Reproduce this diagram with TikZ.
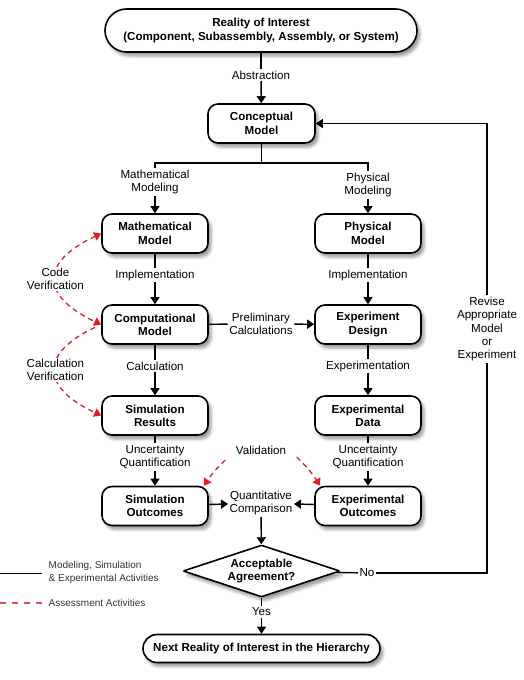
\documentclass[tikz,border=0pt]{standalone}
\usepackage{fontspec}
\setmainfont{Liberation Sans}
\usetikzlibrary{arrows.meta,shapes.geometric,shadows.blur}
\definecolor{assessred}{RGB}{226,30,36}

\begin{document}
\begin{tikzpicture}[x=1pt, y=1pt,
  >={Triangle[length=7pt,width=9pt]},
  box/.style={draw, fill=white, line width=1.6pt, rounded corners=10pt,
    minimum width=106pt, minimum height=39pt, align=center,
    font=\bfseries\fontsize{11.6}{13.3}\selectfont,
    blur shadow={shadow xshift=3pt, shadow yshift=-4pt, shadow blur radius=3pt}},
  lbl/.style={align=center, inner sep=1.5pt, text=black, font=\fontsize{11.6}{13.3}\selectfont},
  legtext/.style={lbl, anchor=west, align=left, text=black!80, font=\fontsize{10}{12.5}\selectfont},
  flow/.style={line width=1.4pt, ->},
  link/.style={line width=1.4pt},
  assess/.style={assessred, dashed, dash pattern=on 5pt off 4pt, line width=1.3pt}]
  \useasboundingbox (0,0) rectangle (524,-680);

  % Boxes
  \node[box, minimum width=312pt, minimum height=43pt, rounded corners=21.5pt] (reality) at (261,-30.5)
    {Reality of Interest\\(Component, Subassembly, Assembly, or System)};
  \node[box, minimum width=107pt] (concept) at (261.5,-123.5) {Conceptual\\Model};
  \node[box] (math) at (155,-233.5) {Mathematical\\Model};
  \node[box] (phys) at (368,-233.5) {Physical\\Model};
  \node[box] (comp) at (155,-324.5) {Computational\\Model};
  \node[box] (design) at (368,-324.5) {Experiment\\Design};
  \node[box] (simres) at (155,-415.5) {Simulation\\Results};
  \node[box] (expdata) at (368,-415.5) {Experimental\\Data};
  \node[box] (simout) at (155,-506) {Simulation\\Outcomes};
  \node[box] (expout) at (368,-506) {Experimental\\Outcomes};
  \node[box, diamond, aspect=3.2, rounded corners=1pt, inner sep=0pt, minimum width=157pt, minimum height=52pt] (accept)
    at (261.5,-571) {Acceptable\\Agreement?};
  \node[box, minimum width=237pt, minimum height=28pt, rounded corners=14pt] (next) at (261.5,-648.5)
    {Next Reality of Interest in the Hierarchy};

  % Labels
  \node[lbl] (abstr) at (261,-75) {Abstraction};
  \node[lbl] (mmodel) at (155,-182) {Mathematical\\Modeling};
  \node[lbl] (pmodel) at (368,-185) {Physical\\Modeling};
  \node[lbl] (impl1) at (155,-275) {Implementation};
  \node[lbl] (impl2) at (368,-275) {Implementation};
  \node[lbl] (prelim) at (261,-324) {Preliminary\\Calculations};
  \node[lbl] (calc) at (155,-366) {Calculation};
  \node[lbl] (exper) at (368,-366) {Experimentation};
  \node[lbl] (uq1) at (155,-457) {Uncertainty\\Quantification};
  \node[lbl] (uq2) at (368,-457) {Uncertainty\\Quantification};
  \node[lbl] (valid) at (261,-450) {Validation};
  \node[lbl] (quant) at (261,-503) {Quantitative\\Comparison};
  \node[lbl] (yes) at (261.5,-612) {Yes};
  \node[lbl] (no) at (367,-573) {No};
  \node[lbl, text width=90pt] (revise) at (487,-329) {Revise\\Appropriate\\Model\\or\\Experiment};

  % Main flow
  \draw[link] (reality) -- (abstr);
  \draw[flow] (abstr) -- (concept);
  \draw[link] (concept.south) -- ++(0,-19) coordinate (split);
  \draw[link] (split) -| (mmodel.north);
  \draw[link] (split) -| (pmodel.north);
  \draw[flow] (mmodel) -- (math);
  \draw[flow] (pmodel) -- (phys);
  \draw[link] (math) -- (impl1);
  \draw[flow] (impl1) -- (comp);
  \draw[link] (phys) -- (impl2);
  \draw[flow] (impl2) -- (design);
  \draw[link] (comp) -- (prelim);
  \draw[flow] (prelim) -- (design);
  \draw[link] (comp) -- (calc);
  \draw[flow] (calc) -- (simres);
  \draw[link] (design) -- (exper);
  \draw[flow] (exper) -- (expdata);
  \draw[link] (simres) -- (uq1);
  \draw[flow] (uq1) -- (simout);
  \draw[link] (expdata) -- (uq2);
  \draw[flow] (uq2) -- (expout);
  \draw[flow] (simout) -- (quant);
  \draw[flow] (expout) -- (quant);
  \draw[flow] (quant) -- (accept);
  \draw[link] (accept) -- (yes);
  \draw[flow] (yes) -- (next);

  % Feedback loop
  \draw[link] (accept) -- (no);
  \draw[link] (no.east) -| (revise.south);
  \draw[flow] (revise.north) |- (concept.east);

  % Assessment activities
  \draw[assess, <->] (math.west) to[out=205, in=155, looseness=1.9]
    node[lbl, fill=white] {Code\\Verification} (comp.west);
  \draw[assess, ->, shorten <=7pt] (comp.west) to[out=205, in=155, looseness=1.9]
    node[lbl, fill=white] {Calculation\\Verification} (simres.west);
  \draw[assess, ->] ([xshift=-9pt,yshift=-4pt]valid.south west) to[bend right=6] ([xshift=-5pt]simout.north east);
  \draw[assess, ->] ([xshift=9pt,yshift=-1pt]valid.south east) to[bend left=6] ([xshift=6pt]expout.north west);

  % Legend
  \node[legtext] (leg1) at (47,-572.5) {Modeling, Simulation\\\& Experimental Activities};
  \node[legtext] (leg2) at (47,-603) {Assessment Activities};
  \coordinate (lg1) at (0,-573.5);
  \coordinate (lg2) at (0,-603);
  \draw[link, line width=1.2pt, shorten >=5pt] (lg1) -- (lg1 -| leg1.west);
  \draw[assess, assessred!80, dash pattern=on 6pt off 6pt, shorten >=5pt] (lg2) -- (leg2.west);
\end{tikzpicture}
\end{document}
